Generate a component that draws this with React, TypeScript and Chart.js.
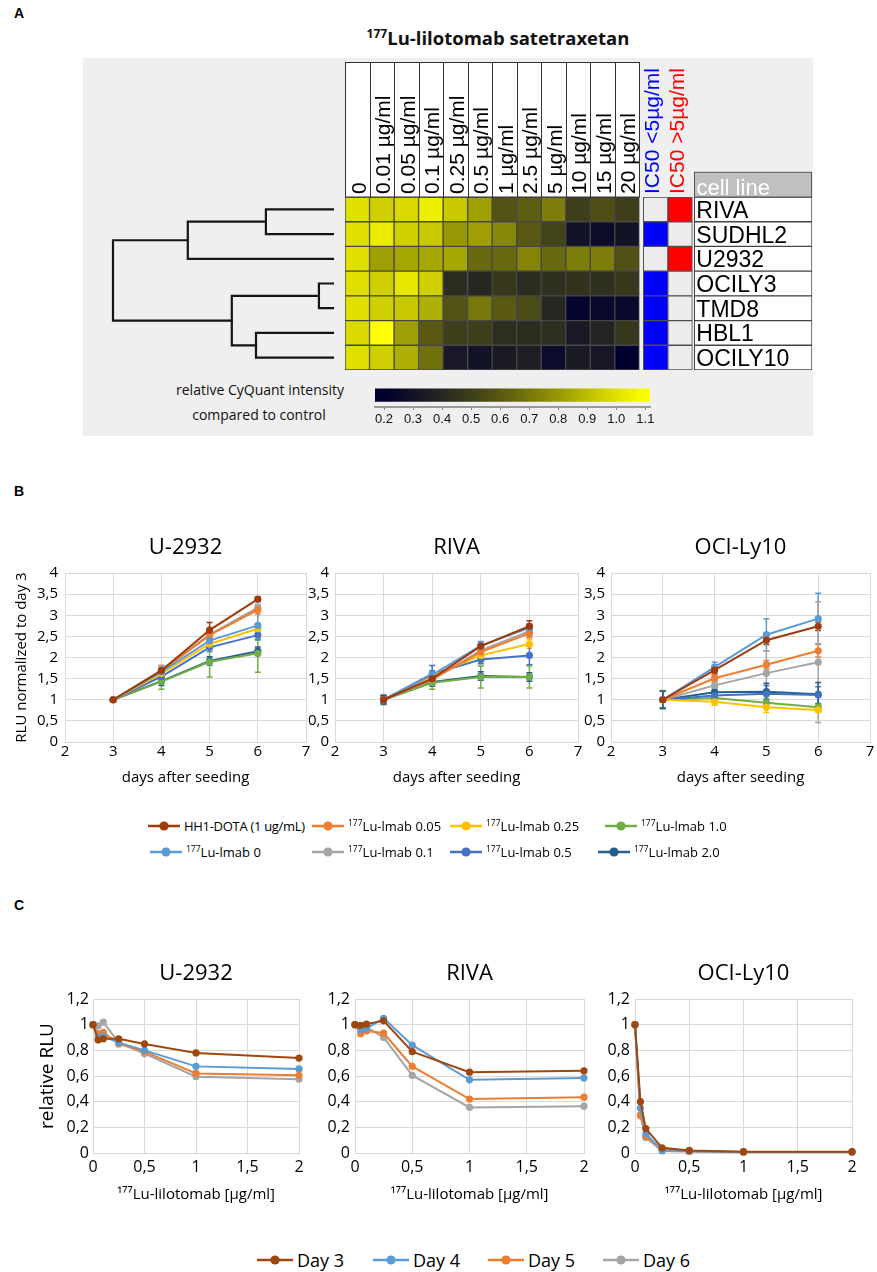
import React, { useEffect, useRef } from "react";
import { Chart, registerables } from "chart.js";
Chart.register(...registerables);

const SANS = "'Open Sans', 'DejaVu Sans', sans-serif";
const ARIAL = "'Liberation Sans', Arial, sans-serif";
Chart.defaults.font.family = SANS;
Chart.defaults.color = "#000";

// ================= Panel A data =================
const cellLines = ["RIVA", "SUDHL2", "U2932", "OCILY3", "TMD8", "HBL1", "OCILY10"];
const doseLabels = ["0", "0.01 µg/ml", "0.05 µg/ml", "0.1 µg/ml", "0.25 µg/ml", "0.5 µg/ml", "1 µg/ml", "2.5 µg/ml", "5 µg/ml", "10 µg/ml", "15 µg/ml", "20 µg/ml"];
const heatRIVA = [1.0, 0.95, 0.98, 1.05, 0.93, 0.82, 0.58, 0.62, 0.72, 0.5, 0.56, 0.5];
const heatSUDHL2 = [1.0, 1.04, 0.95, 0.93, 0.8, 0.82, 0.75, 0.6, 0.52, 0.3, 0.27, 0.3];
const heatU2932 = [1.0, 0.82, 0.84, 0.84, 0.84, 0.66, 0.66, 0.74, 0.66, 0.72, 0.72, 0.57];
const heatOCILY3 = [1.0, 0.95, 1.02, 0.95, 0.42, 0.4, 0.47, 0.42, 0.44, 0.45, 0.44, 0.47];
const heatTMD8 = [1.0, 0.95, 0.93, 0.86, 0.58, 0.7, 0.6, 0.55, 0.4, 0.22, 0.25, 0.25];
const heatHBL1 = [0.98, 1.1, 0.82, 0.6, 0.5, 0.5, 0.43, 0.42, 0.43, 0.33, 0.38, 0.47];
const heatOCILY10 = [1.0, 0.95, 0.86, 0.68, 0.33, 0.3, 0.34, 0.36, 0.26, 0.34, 0.32, 0.18];
const heatRows = [heatRIVA, heatSUDHL2, heatU2932, heatOCILY3, heatTMD8, heatHBL1, heatOCILY10];
const ic50Below5 = [false, true, false, true, true, true, true];
const ic50Labels = ["IC50 <5µg/ml", "IC50 >5µg/ml"];
const colorbarRange = [0.169, 1.116];
const colorbarTicks = [0.2, 0.3, 0.4, 0.5, 0.6, 0.7, 0.8, 0.9, 1.0, 1.1];
// linkage: [childA, childB, height]; leaves 0..6, new clusters 7..
const dendroMerges: [number, number, number][] = [
  [3, 4, 0.064],
  [0, 1, 0.305],
  [5, 6, 0.35],
  [7, 9, 0.46],
  [8, 2, 0.66],
  [11, 10, 1.0],
];

// ================= Panel B data =================
const bDays = [3, 4, 5, 6];
const bLabels = ["HH1-DOTA (1 ug/mL)", "177Lu-lmab 0", "177Lu-lmab 0.05", "177Lu-lmab 0.1", "177Lu-lmab 0.25", "177Lu-lmab 0.5", "177Lu-lmab 1.0", "177Lu-lmab 2.0"];
const bColors = ["#9E3B0E", "#5B9BD5", "#ED7D31", "#A5A5A5", "#FFC000", "#4472C4", "#70AD47", "#255E91"];
const bU2932 = [
  [1, 1.69, 2.65, 3.38],
  [1, 1.66, 2.4, 2.76],
  [1, 1.68, 2.53, 3.13],
  [1, 1.7, 2.54, 3.18],
  [1, 1.62, 2.32, 2.68],
  [1, 1.55, 2.24, 2.53],
  [1, 1.43, 1.9, 2.1],
  [1, 1.44, 1.92, 2.15],
];
const bU2932Err = [
  [0.03, 0.12, 0.18, 0.05],
  [0.03, 0.1, 0.1, 0.35],
  [0.03, 0.08, 0.1, 0.1],
  [0.03, 0.1, 0.12, 0.08],
  [0.03, 0.08, 0.1, 0.1],
  [0.03, 0.08, 0.1, 0.1],
  [0.04, 0.18, 0.36, 0.45],
  [0.04, 0.1, 0.1, 0.1],
];
const bRIVA = [
  [1, 1.5, 2.27, 2.74],
  [1, 1.59, 2.28, 2.7],
  [1, 1.48, 2.13, 2.57],
  [1, 1.47, 2.17, 2.62],
  [1, 1.56, 2.05, 2.32],
  [1, 1.61, 1.95, 2.05],
  [1, 1.4, 1.54, 1.54],
  [1, 1.42, 1.56, 1.54],
];
const bRIVAErr = [
  [0.08, 0.1, 0.1, 0.13],
  [0.08, 0.1, 0.1, 0.1],
  [0.08, 0.1, 0.1, 0.1],
  [0.08, 0.1, 0.16, 0.12],
  [0.08, 0.1, 0.1, 0.1],
  [0.08, 0.2, 0.1, 0.22],
  [0.12, 0.15, 0.26, 0.26],
  [0.1, 0.1, 0.1, 0.1],
];
const bOCI = [
  [1, 1.7, 2.41, 2.74],
  [1, 1.77, 2.54, 2.92],
  [1, 1.51, 1.83, 2.16],
  [1, 1.34, 1.63, 1.89],
  [1, 0.95, 0.82, 0.76],
  [1, 1.1, 1.14, 1.11],
  [1, 1.04, 0.93, 0.82],
  [1, 1.18, 1.19, 1.13],
];
const bOCIErr = [
  [0.2, 0.1, 0.1, 0.1],
  [0.2, 0.12, 0.38, 0.6],
  [0.2, 0.1, 0.1, 0.15],
  [0.2, 0.1, 0.53, 1.43],
  [0.2, 0.08, 0.12, 0.05],
  [0.2, 0.1, 0.2, 0.2],
  [0.22, 0.1, 0.1, 0.08],
  [0.2, 0.1, 0.2, 0.28],
];

// ================= Panel C data =================
const cDoses = [0, 0.05, 0.1, 0.25, 0.5, 1, 2];
const cLabels = ["Day 3", "Day 4", "Day 5", "Day 6"];
const cColors = ["#9E480E", "#5B9BD5", "#ED7D31", "#A5A5A5"];
const cU2932 = [
  [1, 0.88, 0.89, 0.89, 0.85, 0.78, 0.74],
  [1, 0.9, 0.91, 0.86, 0.8, 0.675, 0.655],
  [1, 0.93, 0.94, 0.85, 0.79, 0.62, 0.605],
  [1, 0.99, 1.02, 0.86, 0.775, 0.595, 0.575],
];
const cRIVA = [
  [1, 0.995, 1.005, 1.03, 0.79, 0.63, 0.64],
  [1, 0.96, 0.97, 1.05, 0.84, 0.57, 0.585],
  [1, 0.93, 0.95, 0.935, 0.675, 0.42, 0.435],
  [1, 0.96, 0.98, 0.9, 0.605, 0.355, 0.365],
];
const cOCI = [
  [1, 0.4, 0.19, 0.04, 0.02, 0.01, 0.01],
  [1, 0.35, 0.15, 0.02, 0.015, 0.008, 0.008],
  [1, 0.29, 0.13, 0.03, 0.015, 0.008, 0.008],
  [1, 0.3, 0.12, 0.015, 0.01, 0.005, 0.005],
];

// ================= helpers =================
const cmapStops: [number, number[]][] = [
  [0.2, [0, 0, 48]],
  [0.35, [28, 28, 36]],
  [0.5, [62, 62, 26]],
  [0.65, [102, 102, 16]],
  [0.8, [152, 152, 6]],
  [0.95, [208, 208, 0]],
  [1.1, [255, 255, 0]],
];
function heatColor(v: number) {
  const c = Math.max(cmapStops[0][0], Math.min(cmapStops[cmapStops.length - 1][0], v));
  for (let i = 0; i < cmapStops.length - 1; i++) {
    const [a, ca] = cmapStops[i];
    const [b, cb] = cmapStops[i + 1];
    if (c >= a && c <= b) {
      const t = (c - a) / (b - a);
      const m = ca.map((x, k) => Math.round(x + (cb[k] - x) * t));
      return `rgb(${m[0]},${m[1]},${m[2]})`;
    }
  }
  return "rgb(255,255,0)";
}
const fmtComma = (v: any) => String(Math.round(Number(v) * 100) / 100).replace(".", ",");
const GRID = "#d9d9d9";

function ChartCanvas({ left, top, width, height, config }: any) {
  const ref = useRef<HTMLCanvasElement | null>(null);
  useEffect(() => {
    if (!ref.current) return;
    const chart = new Chart(ref.current, config);
    return () => chart.destroy();
  }, []);
  return (
    <canvas
      ref={ref}
      width={width}
      height={height}
      style={{ position: "absolute", left, top, width, height }}
    />
  );
}

const errorBarsPlugin = {
  id: "errorBars",
  beforeDatasetsDraw(chart: any) {
    const { ctx } = chart;
    const ys = chart.scales.y;
    chart.data.datasets.forEach((ds: any, i: number) => {
      if (!ds.errors) return;
      const meta = chart.getDatasetMeta(i);
      ctx.save();
      ctx.strokeStyle = ds.borderColor;
      ctx.lineWidth = 1.5;
      meta.data.forEach((pt: any, k: number) => {
        const v = ds.data[k].y;
        const e = ds.errors[k];
        const y0 = ys.getPixelForValue(v + e);
        const y1 = ys.getPixelForValue(v - e);
        const x = pt.x;
        ctx.beginPath();
        ctx.moveTo(x, y0);
        ctx.lineTo(x, y1);
        ctx.moveTo(x - 3, y0);
        ctx.lineTo(x + 3, y0);
        ctx.moveTo(x - 3, y1);
        ctx.lineTo(x + 3, y1);
        ctx.stroke();
      });
      ctx.restore();
    });
  },
};

function makeLineConfig(p: any) {
  return {
    type: "line",
    data: {
      datasets: p.values.map((vals: number[], i: number) => ({
        label: p.labels[i],
        data: p.xs.map((x: number, k: number) => ({ x, y: vals[k] })),
        errors: p.errors ? p.errors[i] : undefined,
        borderColor: p.colors[i],
        backgroundColor: p.colors[i],
        pointBackgroundColor: p.colors[i],
        pointBorderColor: p.colors[i],
        pointRadius: 3.6,
        pointBorderWidth: 0,
        borderWidth: 2,
        tension: 0,
        clip: false,
      })),
    },
    options: {
      responsive: false,
      animation: false,
      events: [],
      layout: { padding: { left: 0, right: p.padRight, top: 0, bottom: 0 } },
      plugins: {
        legend: { display: false },
        tooltip: { enabled: false },
        title: {
          display: true,
          text: p.title,
          fullSize: false,
          color: "#000",
          font: { family: SANS, size: 22, weight: "normal", lineHeight: 1.2 },
          padding: { top: p.titlePadTop, bottom: p.titlePadBottom },
        },
      },
      scales: {
        x: {
          type: "linear",
          min: p.xMin,
          max: p.xMax,
          ticks: { stepSize: p.xStep, padding: p.xTickPad, color: "#000", font: { size: p.tickSize }, callback: fmtComma },
          grid: { color: GRID, drawTicks: false, lineWidth: 1 },
          border: { color: GRID },
          title: {
            display: true,
            text: p.xTitle,
            color: "#000",
            font: { size: 15, lineHeight: 1.2 },
            padding: { top: 0, bottom: p.xTitlePadBottom },
          },
          afterFit: (s: any) => {
            s.height = p.xAxisHeight;
          },
        },
        y: {
          type: "linear",
          min: p.yMin,
          max: p.yMax,
          ticks: { stepSize: p.yStep, padding: p.yTickPad, color: "#000", font: { size: p.tickSize }, callback: fmtComma },
          grid: { color: GRID, drawTicks: false, lineWidth: 1 },
          border: { color: GRID },
          title: {
            display: !!p.yTitle,
            text: p.yTitle || "",
            color: "#000",
            font: { size: p.yTitleSize || 15, lineHeight: 1.2 },
            padding: { top: p.yTitlePad || 0, bottom: 0 },
          },
          afterFit: (s: any) => {
            s.width = p.yAxisWidth;
          },
        },
      },
    },
    plugins: [errorBarsPlugin],
  };
}

// ================= Panel A configs =================
const GAP1 = 0.163;
const GAP2 = 0.081;
const LABEL_W = 4.797;
const HEAT_TOTAL = doseLabels.length + GAP1 + 2 + GAP2 + LABEL_W;

const heatHeaderPlugin = {
  id: "heatHeader",
  afterDraw(chart: any) {
    const { ctx, chartArea } = chart;
    const xs = chart.scales.x;
    const top = chartArea.top;
    ctx.save();
    ctx.font = `21px ${ARIAL}`;
    doseLabels.forEach((lab, j) => {
      const x0 = Math.round(xs.getPixelForValue(j)) + 0.5;
      const x1 = Math.round(xs.getPixelForValue(j + 1)) + 0.5;
      ctx.fillStyle = "#fff";
      ctx.fillRect(x0, 0.5, x1 - x0, top - 0.5);
      ctx.strokeStyle = "#333";
      ctx.lineWidth = 1;
      ctx.strokeRect(x0, 0.5, x1 - x0, top - 0.5);
      ctx.save();
      ctx.translate(x0 + (x1 - x0) * 0.8, top - 3);
      ctx.rotate(-Math.PI / 2);
      ctx.fillStyle = "#000";
      ctx.textAlign = "left";
      ctx.textBaseline = "alphabetic";
      ctx.fillText(lab, 0, 0);
      ctx.restore();
    });
    const icColors = ["#0000ff", "#ff0000"];
    ic50Labels.forEach((lab, k) => {
      const x0 = xs.getPixelForValue(doseLabels.length + GAP1 + k);
      const x1 = xs.getPixelForValue(doseLabels.length + GAP1 + k + 1);
      ctx.save();
      ctx.translate(x0 + (x1 - x0) * 0.64, top - 3);
      ctx.rotate(-Math.PI / 2);
      ctx.fillStyle = icColors[k];
      ctx.textAlign = "left";
      ctx.textBaseline = "alphabetic";
      ctx.fillText(lab, 0, 0);
      ctx.restore();
    });
    const lx0 = Math.round(xs.getPixelForValue(doseLabels.length + GAP1 + 2 + GAP2)) + 0.5;
    const lx1 = Math.round(xs.getPixelForValue(HEAT_TOTAL)) - 0.5;
    const rowH = (chartArea.bottom - chartArea.top) / cellLines.length;
    ctx.fillStyle = "#c0c0c0";
    ctx.fillRect(lx0, top - rowH, lx1 - lx0, rowH);
    ctx.strokeStyle = "#555";
    ctx.strokeRect(lx0, top - rowH, lx1 - lx0, rowH);
    ctx.font = `22px ${ARIAL}`;
    ctx.fillStyle = "#fff";
    ctx.textAlign = "left";
    ctx.textBaseline = "alphabetic";
    ctx.fillText("cell line", lx0 + 2, top - 2.5);
    const meta = chart.getDatasetMeta(chart.data.datasets.length - 1);
    ctx.fillStyle = "#000";
    ctx.font = `23px ${ARIAL}`;
    meta.data.forEach((el: any, i: number) => {
      ctx.fillText(cellLines[i], el.base + 2, el.y + 8.5);
    });
    ctx.restore();
  },
};

const heatDatasets: any[] = doseLabels.map((lab, j) => ({
  label: lab,
  data: cellLines.map(() => 1),
  backgroundColor: cellLines.map((_, i) => heatColor(heatRows[i][j])),
  borderColor: "#474747",
  borderWidth: 1,
  borderSkipped: false,
}));
heatDatasets.push({
  label: "gap1",
  data: cellLines.map(() => GAP1),
  backgroundColor: "rgba(0,0,0,0)",
  borderWidth: 0,
});
heatDatasets.push({
  label: ic50Labels[0],
  data: cellLines.map(() => 1),
  backgroundColor: ic50Below5.map((b) => (b ? "#0000ff" : "#ececec")),
  borderColor: "#505050",
  borderWidth: 1,
  borderSkipped: false,
});
heatDatasets.push({
  label: ic50Labels[1],
  data: cellLines.map(() => 1),
  backgroundColor: ic50Below5.map((b) => (b ? "#ececec" : "#ff0000")),
  borderColor: "#505050",
  borderWidth: 1,
  borderSkipped: false,
});
heatDatasets.push({
  label: "gap2",
  data: cellLines.map(() => GAP2),
  backgroundColor: "rgba(0,0,0,0)",
  borderWidth: 0,
});
heatDatasets.push({
  label: "cell line",
  data: cellLines.map(() => LABEL_W),
  backgroundColor: "#ffffff",
  borderColor: "#444",
  borderWidth: 1,
  borderSkipped: false,
});

const heatConfig: any = {
  type: "bar",
  data: { labels: cellLines, datasets: heatDatasets },
  options: {
    indexAxis: "y",
    responsive: false,
    animation: false,
    events: [],
    layout: { padding: { top: 135, left: 0, right: 0, bottom: 0 } },
    datasets: { bar: { barPercentage: 1, categoryPercentage: 1 } },
    plugins: { legend: { display: false }, tooltip: { enabled: false } },
    scales: {
      x: { stacked: true, min: 0, max: HEAT_TOTAL, display: false },
      y: { stacked: true, display: false },
    },
  },
  plugins: [heatHeaderPlugin],
};

function dendroSegments() {
  const nodes = cellLines.map((_, i) => ({ h: 0, y: i }));
  return dendroMerges.map(([a, b, h]) => {
    const A = nodes[a];
    const B = nodes[b];
    nodes.push({ h, y: (A.y + B.y) / 2 });
    return [
      { x: A.h, y: A.y },
      { x: h, y: A.y },
      { x: h, y: B.y },
      { x: B.h, y: B.y },
    ];
  });
}

const dendroConfig: any = {
  type: "scatter",
  data: {
    datasets: dendroSegments().map((pts) => ({
      data: pts,
      showLine: true,
      borderColor: "#151515",
      borderWidth: 2.2,
      pointRadius: 0,
      borderCapStyle: "square",
      borderJoinStyle: "miter",
      clip: false,
    })),
  },
  options: {
    responsive: false,
    animation: false,
    events: [],
    layout: { padding: { left: 10, right: 10, top: 0, bottom: 0 } },
    plugins: { legend: { display: false }, tooltip: { enabled: false } },
    scales: {
      x: { type: "linear", min: 0, max: 1, reverse: true, display: false },
      y: { type: "linear", min: -0.5, max: cellLines.length - 0.5, reverse: true, display: false },
    },
  },
};

const colorbarConfig: any = {
  type: "bar",
  data: {
    datasets: [
      {
        data: [{ x: colorbarRange, y: 0.69 }],
        barThickness: 12.5,
        borderWidth: 0,
        backgroundColor: (c: any) => {
          const chart = c.chart;
          if (!chart.chartArea) return "#000";
          const sx = chart.scales.x;
          const x0 = sx.getPixelForValue(colorbarRange[0]);
          const x1 = sx.getPixelForValue(colorbarRange[1]);
          const g = chart.ctx.createLinearGradient(x0, 0, x1, 0);
          for (let i = 0; i <= 30; i++) {
            const v = colorbarRange[0] + ((colorbarRange[1] - colorbarRange[0]) * i) / 30;
            g.addColorStop(i / 30, heatColor(v));
          }
          return g;
        },
      },
    ],
  },
  options: {
    indexAxis: "y",
    responsive: false,
    animation: false,
    events: [],
    layout: { padding: { left: 12, right: 12, top: 2, bottom: 0 } },
    plugins: { legend: { display: false }, tooltip: { enabled: false } },
    scales: {
      x: {
        type: "linear",
        min: colorbarRange[0],
        max: colorbarRange[1],
        afterBuildTicks: (s: any) => {
          s.ticks = colorbarTicks.map((v) => ({ value: v }));
        },
        ticks: { font: { family: ARIAL, size: 13 }, color: "#111", padding: 2, callback: (v: any) => Number(v).toFixed(1) },
        grid: { drawOnChartArea: false, drawTicks: true, tickLength: 3, color: "#888" },
        border: { color: "#999", width: 2 },
        afterFit: (s: any) => {
          s.height = 28;
        },
      },
      y: { type: "linear", min: 0, max: 1, display: false },
    },
  },
};

// ================= Panel B / C configs =================
const bCommon = {
  xs: bDays,
  labels: bLabels,
  colors: bColors,
  xMin: 2,
  xMax: 7,
  xStep: 1,
  yMin: 0,
  yMax: 4,
  yStep: 0.5,
  tickSize: 15,
  xTitle: "days after seeding",
  xAxisHeight: 58,
  xTitlePadBottom: 13,
  xTickPad: 0.5,
  titlePadTop: 9.8,
  titlePadBottom: 11.8,
};
const bU2932Config = makeLineConfig({ ...bCommon, title: "U-2932", values: bU2932, errors: bU2932Err, yAxisWidth: 65, yTickPad: 7, yTitle: "RLU normalized to day 3", yTitleSize: 15, yTitlePad: 13, padRight: 10 });
const bRIVAConfig = makeLineConfig({ ...bCommon, title: "RIVA", values: bRIVA, errors: bRIVAErr, yAxisWidth: 35, yTickPad: 6, padRight: 10 });
const bOCIConfig = makeLineConfig({ ...bCommon, title: "OCI-Ly10", values: bOCI, errors: bOCIErr, yAxisWidth: 33, yTickPad: 6, padRight: 7 });

const cCommon = {
  xs: cDoses,
  labels: cLabels,
  colors: cColors,
  xMin: 0,
  xMax: 2,
  xStep: 0.5,
  yMin: 0,
  yMax: 1.2,
  yStep: 0.2,
  tickSize: 16,
  xTitle: "¹⁷⁷Lu-lilotomab [µg/ml]",
  xAxisHeight: 62,
  xTitlePadBottom: 11,
  xTickPad: 4.4,
  titlePadTop: 10.8,
  titlePadBottom: 11.8,
};
const cU2932Config = makeLineConfig({ ...cCommon, title: "U-2932", values: cU2932, yAxisWidth: 73, yTickPad: 4, yTitle: "relative RLU", yTitleSize: 19, yTitlePad: 16.6, padRight: 10 });
const cRIVAConfig = makeLineConfig({ ...cCommon, title: "RIVA", values: cRIVA, yAxisWidth: 35, yTickPad: 5, padRight: 10 });
const cOCIConfig = makeLineConfig({ ...cCommon, title: "OCI-Ly10", values: cOCI, yAxisWidth: 35, yTickPad: 5, padRight: 10 });

// ================= HTML pieces =================
function LabelText({ text, supSize }: { text: string; supSize: number }) {
  if (text.startsWith("177")) {
    return (
      <span>
        <sup style={{ fontSize: supSize, verticalAlign: "super", lineHeight: 0 }}>177</sup>
        {text.slice(3)}
      </span>
    );
  }
  return <span>{text}</span>;
}

function LegendItem({ x, y, color, text, fontSize, markerW, supSize, spacing }: any) {
  return (
    <div
      style={{
        position: "absolute",
        left: x,
        top: y - 11,
        height: 22,
        display: "flex",
        alignItems: "center",
        whiteSpace: "nowrap",
        fontFamily: SANS,
        fontSize,
        letterSpacing: spacing || 0,
        color: "#000",
      }}
    >
      <svg width={markerW} height={12} style={{ flex: "none" }}>
        <line x1={0} y1={6} x2={markerW} y2={6} stroke={color} strokeWidth={2.5} />
        <circle cx={markerW / 2} cy={6} r={4.6} fill={color} />
      </svg>
      <span style={{ marginLeft: 4 }}>
        <LabelText text={text} supSize={supSize} />
      </span>
    </div>
  );
}

const bLegendCols = [
  [148, 312, 450, 605],
  [150, 312, 450, 598],
];
const bLegendRowsY = [826, 852];

export default function App() {
  const panelLetter = (t: string, x: number, y: number) => (
    <div style={{ position: "absolute", left: x, top: y, fontFamily: ARIAL, fontWeight: "bold", fontSize: 14, lineHeight: "16px" }}>{t}</div>
  );
  return (
    <div style={{ position: "absolute", left: 0, top: 0, width: 877, height: 1272, background: "#fff", overflow: "hidden" }}>
      {panelLetter("A", 14, 5)}
      {panelLetter("B", 14, 483)}
      {panelLetter("C", 14, 897)}

      {/* Panel A */}
      <div style={{ position: "absolute", left: 83, top: 58, width: 730, height: 378, background: "#efefef" }} />
      <div
        style={{
          position: "absolute",
          left: 498,
          top: 26,
          transform: "translateX(-50%)",
          whiteSpace: "nowrap",
          fontFamily: SANS,
          fontWeight: "bold",
          fontSize: 18.5,
          lineHeight: "24px",
          color: "#111",
        }}
      >
        <sup style={{ fontSize: 12, lineHeight: 0 }}>177</sup>Lu-lilotomab satetraxetan
      </div>
      <ChartCanvas left={103} top={197} width={240} height={173} config={dendroConfig} />
      <ChartCanvas left={345} top={62} width={467} height={308} config={heatConfig} />
      <ChartCanvas left={363} top={385} width={299} height={50} config={colorbarConfig} />
      <div style={{ position: "absolute", left: 260, top: 389, transform: "translate(-50%,-50%)", whiteSpace: "nowrap", fontFamily: SANS, fontSize: 14, color: "#111" }}>
        relative CyQuant intensity
      </div>
      <div style={{ position: "absolute", left: 259, top: 414, transform: "translate(-50%,-50%)", whiteSpace: "nowrap", fontFamily: SANS, fontSize: 14, color: "#111" }}>
        compared to control
      </div>

      {/* Panel B */}
      <ChartCanvas left={0} top={525} width={316} height={275} config={bU2932Config} />
      <ChartCanvas left={300} top={525} width={288} height={275} config={bRIVAConfig} />
      <ChartCanvas left={578} top={525} width={299} height={275} config={bOCIConfig} />
      {bLabels.map((lab, k) => (
        <LegendItem
          key={lab}
          x={bLegendCols[k % 2][Math.floor(k / 2)]}
          y={bLegendRowsY[k % 2]}
          color={bColors[k]}
          text={lab}
          fontSize={13}
          supSize={8.5}
          markerW={32}
          spacing={k === 0 ? -0.3 : 0}
        />
      ))}

      {/* Panel C */}
      <ChartCanvas left={20} top={950} width={289} height={265} config={cU2932Config} />
      <ChartCanvas left={320} top={950} width={274} height={265} config={cRIVAConfig} />
      <ChartCanvas left={600} top={950} width={262} height={265} config={cOCIConfig} />
      {cLabels.map((lab, k) => (
        <LegendItem key={lab} x={[257, 373, 488, 603][k]} y={1260} color={cColors[k]} text={lab} fontSize={18} supSize={11} markerW={36} />
      ))}
    </div>
  );
}
